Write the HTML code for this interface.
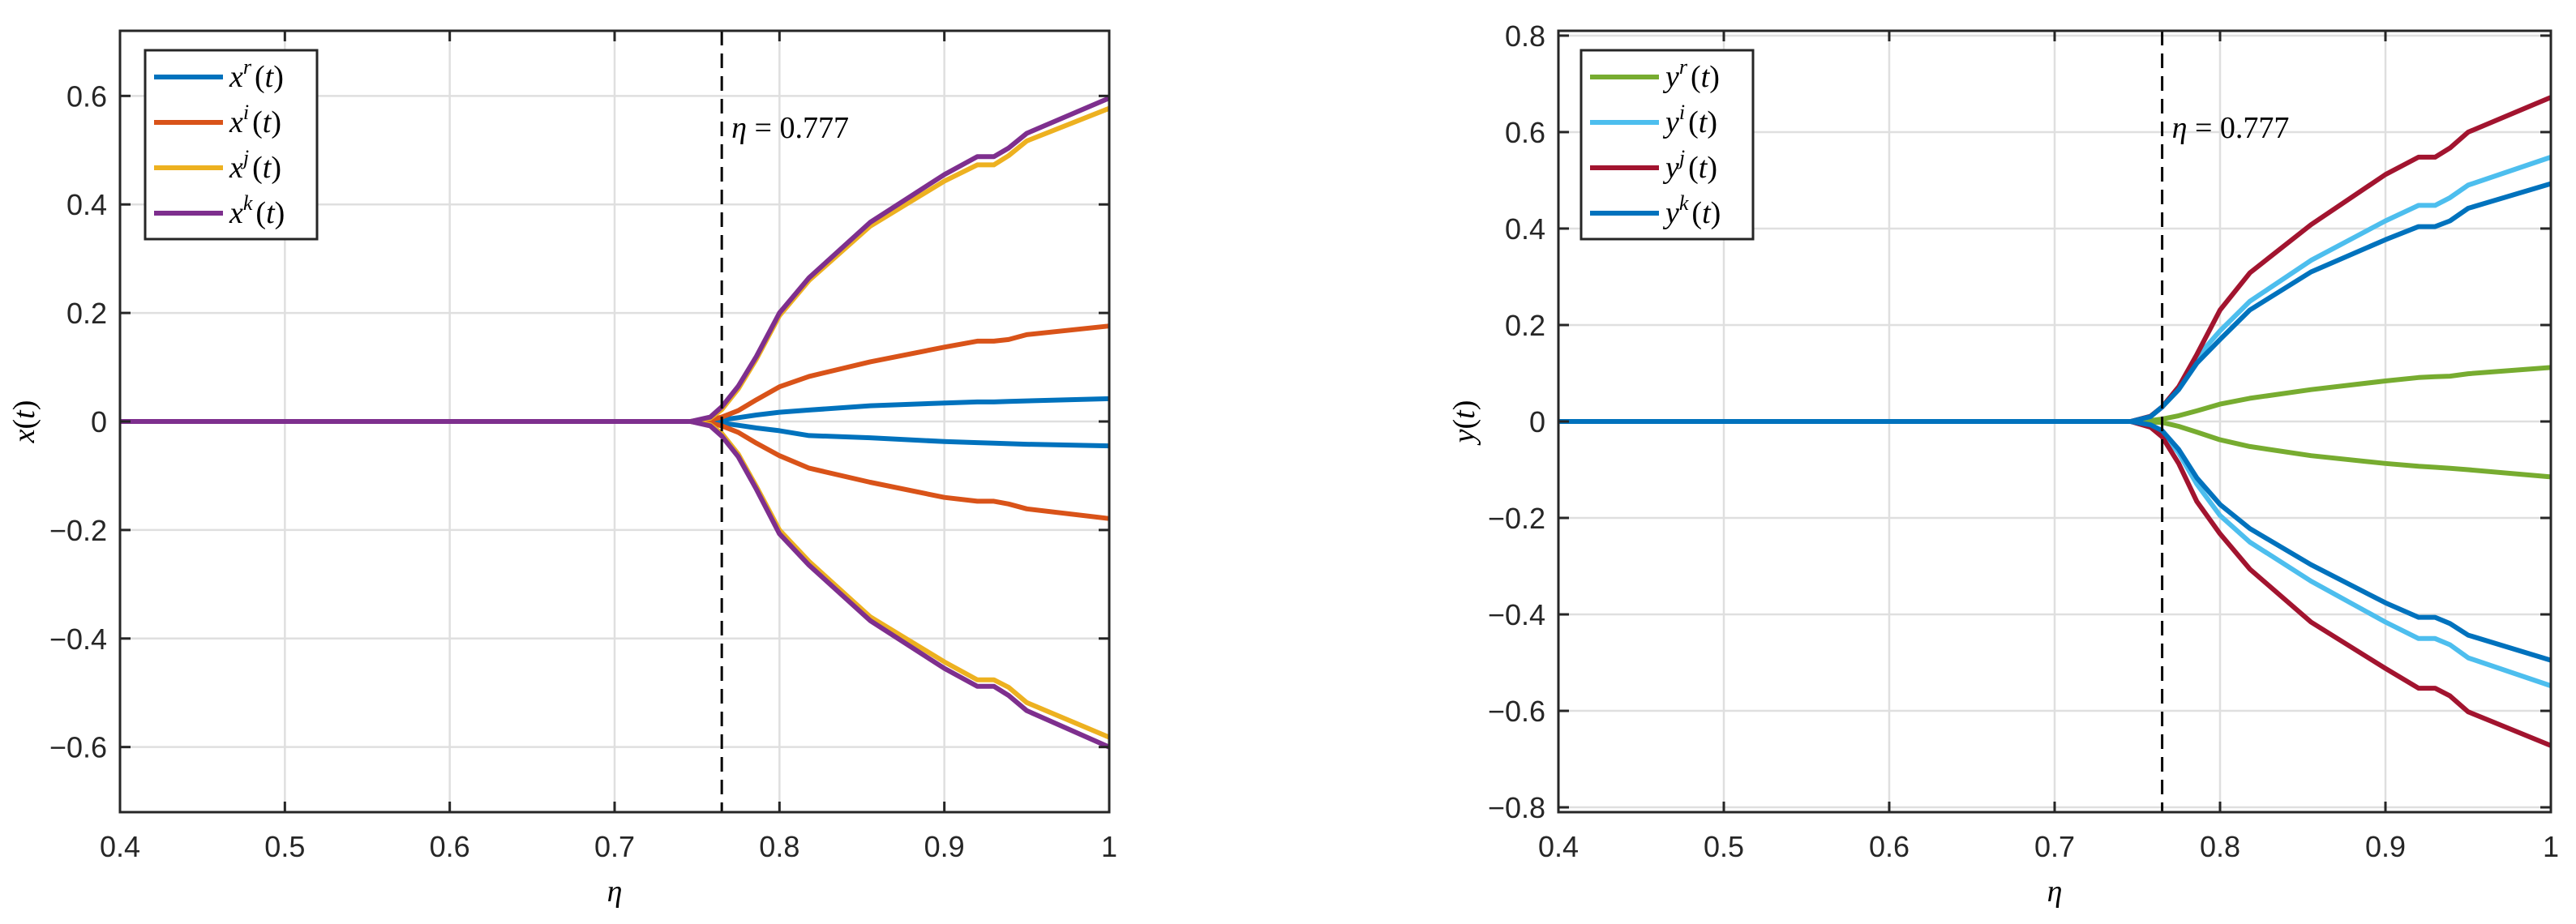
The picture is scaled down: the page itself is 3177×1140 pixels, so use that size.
<!DOCTYPE html>
<html><head><meta charset="utf-8"><style>
html,body{margin:0;padding:0;background:#fff;}
svg{display:block;}
text{font-family:"Liberation Sans",sans-serif;fill:#262626;}
.m{font-family:"Liberation Serif",serif;font-style:italic;fill:#000;}
.mr{font-family:"Liberation Serif",serif;fill:#000;}
</style></head><body>
<svg id="fig" width="3177" height="1140" viewBox="0 0 3177 1140" xmlns="http://www.w3.org/2000/svg"></svg>
<script>
const etaVals = [0.4,0.746,0.758,0.765,0.775,0.786,0.8,0.818,0.855,0.9,0.92,0.93,0.939,0.95,1];
const xTicks = [0.4,0.5,0.6,0.7,0.8,0.9,1];
const xTickLabels = ['0.4','0.5','0.6','0.7','0.8','0.9','1'];
const leftYTicks = [-0.6,-0.4,-0.2,0,0.2,0.4,0.6];
const leftYTickLabels = ['\u22120.6','\u22120.4','\u22120.2','0','0.2','0.4','0.6'];
const rightYTicks = [-0.8,-0.6,-0.4,-0.2,0,0.2,0.4,0.6,0.8];
const rightYTickLabels = ['\u22120.8','\u22120.6','\u22120.4','\u22120.2','0','0.2','0.4','0.6','0.8'];
const etaCritical = 0.765;

const xrUp = [0,0,0.001,0.003,0.007,0.012,0.017,0.021,0.029,0.034,0.036,0.036,0.037,0.038,0.042];
const xrDn = [0,0,-0.001,-0.003,-0.007,-0.012,-0.017,-0.026,-0.030,-0.037,-0.039,-0.040,-0.041,-0.042,-0.045];
const xiUp = [0,0,0.003,0.008,0.02,0.04,0.064,0.083,0.11,0.137,0.148,0.148,0.151,0.16,0.176];
const xiDn = [0,0,-0.003,-0.008,-0.02,-0.04,-0.063,-0.086,-0.112,-0.14,-0.147,-0.147,-0.152,-0.161,-0.179];
const xjUp = [0,0,0.006,0.022,0.06,0.115,0.195,0.26,0.36,0.443,0.473,0.473,0.49,0.517,0.577];
const xjDn = [0,0,-0.006,-0.022,-0.06,-0.12,-0.2,-0.258,-0.36,-0.443,-0.476,-0.476,-0.49,-0.518,-0.582];
const xkUp = [0,0,0.008,0.027,0.065,0.12,0.2,0.265,0.367,0.455,0.488,0.488,0.504,0.531,0.596];
const xkDn = [0,0,-0.008,-0.027,-0.065,-0.125,-0.207,-0.265,-0.367,-0.455,-0.488,-0.488,-0.505,-0.533,-0.6];

const yrUp = [0,0,0.002,0.005,0.012,0.022,0.036,0.048,0.066,0.084,0.091,0.093,0.094,0.099,0.112];
const yrDn = [0,0,-0.001,-0.002,-0.01,-0.022,-0.038,-0.052,-0.071,-0.087,-0.093,-0.095,-0.097,-0.1,-0.115];
const yiUp = [0,0,0.01,0.03,0.07,0.133,0.188,0.249,0.334,0.416,0.448,0.448,0.464,0.49,0.548];
const yiDn = [0,0,-0.008,-0.023,-0.065,-0.13,-0.195,-0.25,-0.331,-0.416,-0.45,-0.45,-0.463,-0.49,-0.548];
const yjUp = [0,0,0.011,0.03,0.072,0.139,0.231,0.308,0.408,0.512,0.548,0.548,0.567,0.6,0.672];
const yjDn = [0,0,-0.012,-0.032,-0.087,-0.166,-0.233,-0.306,-0.416,-0.512,-0.553,-0.553,-0.569,-0.602,-0.672];
const ykUp = [0,0,0.01,0.03,0.066,0.121,0.17,0.231,0.31,0.377,0.404,0.404,0.416,0.442,0.493];
const ykDn = [0,0,-0.007,-0.019,-0.058,-0.117,-0.172,-0.222,-0.297,-0.376,-0.406,-0.406,-0.419,-0.443,-0.495];

const NS='http://www.w3.org/2000/svg';
const svg=document.getElementById('fig');
function mk(tag,attrs,parent){const e=document.createElementNS(NS,tag);for(const k in attrs)e.setAttribute(k,attrs[k]);(parent||svg).appendChild(e);return e;}

function drawPanel(cfg){
  const g=mk('g',{});
  
  
  const L=cfg.left,R=cfg.right,T=38,B=1002,mid=(T+B)/2;
  const sx=v=>L+(v-0.4)/0.6*(R-L);
  const sy=v=>mid-v/cfg.ylim*((B-T)/2);
  xTicks.forEach(t=>{const l=mk('line',{x1:sx(t),x2:sx(t),y1:T,y2:B,stroke:'#dfdfdf','stroke-width':2.5},g);
    });
  cfg.yTicks.forEach(t=>{const l=mk('line',{x1:L,x2:R,y1:sy(t),y2:sy(t),stroke:'#dfdfdf','stroke-width':2.5},g);
    });
  cfg.series.forEach(s=>{
    [s.up,s.dn].forEach(arr=>{
      const d=etaVals.map((e,i)=>(i?'L':'M')+sx(e).toFixed(1)+','+sy(arr[i]).toFixed(1)).join(' ');
      const p=mk('path',{d:d,fill:'none',stroke:s.color,'stroke-width':6,'stroke-linejoin':'round'},g);
      
      
    });
  });
  const dl=mk('line',{x1:sx(etaCritical),x2:sx(etaCritical),y1:T,y2:B,stroke:'#000','stroke-width':3,'stroke-dasharray':'18,10'},g);
  
  
  const an=mk('text',{x:sx(etaCritical)+12,y:170,'font-size':38,class:'mr'},g);
  
  
  an.innerHTML='<tspan class="m">η</tspan> = 0.777';
  const bx=mk('rect',{x:L,y:T,width:R-L,height:B-T,fill:'none',stroke:'#262626','stroke-width':3},g);
  
  
  xTicks.forEach((t,i)=>{
    mk('line',{x1:sx(t),x2:sx(t),y1:B,y2:B-13,stroke:'#262626','stroke-width':3},g);
    mk('line',{x1:sx(t),x2:sx(t),y1:T,y2:T+13,stroke:'#262626','stroke-width':3},g);
    const tx=mk('text',{x:sx(t),y:1057,'font-size':36,'text-anchor':'middle'},g);
    
    
    tx.textContent=xTickLabels[i];
  });
  cfg.yTicks.forEach((t,i)=>{
    mk('line',{x1:L,x2:L+13,y1:sy(t),y2:sy(t),stroke:'#262626','stroke-width':3},g);
    mk('line',{x1:R,x2:R-13,y1:sy(t),y2:sy(t),stroke:'#262626','stroke-width':3},g);
    const ty=mk('text',{x:L-16,y:sy(t)+13,'font-size':36,'text-anchor':'end'},g);
    
    
    ty.textContent=cfg.yTickLabels[i];
  });
  const xl=mk('text',{x:(L+R)/2,y:1112,'font-size':38,'text-anchor':'middle',class:'m'},g);
  
  
  xl.textContent='η';
  const yl=mk('text',{x:0,y:0,'font-size':38,'text-anchor':'middle',class:'mr',transform:`translate(${cfg.ylabelX},${mid}) rotate(-90)`},g);
  
  
  yl.innerHTML='<tspan class="m">'+cfg.yvar+'</tspan>(<tspan class="m">t</tspan>)';
  const lg=mk('g',{},g);
  
  
  const lx=cfg.legX,ly=62;
  mk('rect',{x:lx,y:ly,width:212,height:233,fill:'#fff',stroke:'#262626','stroke-width':3},lg);
  cfg.series.forEach((s,i)=>{
    const yy=ly+33+i*56;
    const e=mk('g',{},lg);
    
    
    mk('line',{x1:lx+11,x2:lx+96,y1:yy,y2:yy,stroke:s.color,'stroke-width':6},e);
    const t=mk('text',{x:lx+104,y:yy+12,'font-size':38,class:'mr'},e);
    t.innerHTML='<tspan class="m">'+cfg.yvar+'</tspan><tspan class="m" font-size="26" dy="-16">'+s.sup+'</tspan><tspan dy="16" dx="4">(</tspan><tspan class="m">t</tspan>)';
  });
}

drawPanel({name:'left-panel',left:148,right:1368,ylim:0.72,yTicks:leftYTicks,yTickLabels:leftYTickLabels,yvar:'x',ylabelX:42,legX:179,
  series:[{id:'xr',sup:'r',color:'#0072bd',up:xrUp,dn:xrDn},{id:'xi',sup:'i',color:'#d95319',up:xiUp,dn:xiDn},
          {id:'xj',sup:'j',color:'#edb120',up:xjUp,dn:xjDn},{id:'xk',sup:'k',color:'#7e2f8e',up:xkUp,dn:xkDn}]});
drawPanel({name:'right-panel',left:1922,right:3146,ylim:0.81,yTicks:rightYTicks,yTickLabels:rightYTickLabels,yvar:'y',ylabelX:1818,legX:1950,
  series:[{id:'yr',sup:'r',color:'#77ac30',up:yrUp,dn:yrDn},{id:'yi',sup:'i',color:'#4dbeee',up:yiUp,dn:yiDn},
          {id:'yj',sup:'j',color:'#a2142f',up:yjUp,dn:yjDn},{id:'yk',sup:'k',color:'#0072bd',up:ykUp,dn:ykDn}]});
</script>
</body></html>
